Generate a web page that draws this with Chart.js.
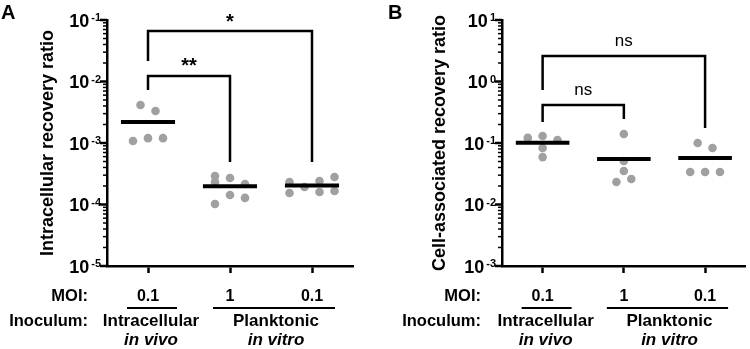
<!DOCTYPE html>
<html>
<head>
<meta charset="utf-8">
<script src="https://cdn.jsdelivr.net/npm/chart.js@4/dist/chart.umd.min.js"></script>
<style>
  html, body { margin: 0; padding: 0; background: #fff; }
  .panel { position: absolute; top: 0; width: 375px; height: 349px; }
</style>
</head>
<body>
<div class="panel" style="left:0"><canvas id="panelA" width="375" height="349"></canvas></div>
<div class="panel" style="left:375px"><canvas id="panelB" width="375" height="349"></canvas></div>
<script>
// recovery ratios, one array per group
const groupPos = [1, 2, 3];
const moiLabels = ['0.1', '1', '0.1'];
const inoculumTop = ['Intracellular', 'Planktonic'];
const inoculumBottom = ['in vivo', 'in vitro'];

// A: intracellular recovery ratio
const aVivo     = [4.15e-3, 3.31e-3, 1.08e-3, 1.20e-3, 1.20e-3];
const aVitro1   = [2.90e-4, 2.32e-4, 2.70e-4, 2.15e-4, 1.43e-4, 1.28e-4, 1.02e-4];
const aVitro01  = [2.32e-4, 1.54e-4, 1.93e-4, 2.41e-4, 1.60e-4, 2.80e-4, 1.66e-4];
// column within the scatter (as placed in the figure)
const aVivoCol    = [-0.5, 0.5, -1, 0, 1];
const aVitro1Col  = [-1, -1, 0, 1, 0, 1, -1];
const aVitro01Col = [-1.5, -1.5, -0.5, 0.5, 0.5, 1.5, 1.5];

// B: cell-associated recovery ratio
const bVivo     = [0.121, 0.130, 0.112, 0.083, 0.059];
const bVitro1   = [0.140, 0.051, 0.035, 0.0232, 0.026];
const bVitro01  = [0.100, 0.083, 0.0337, 0.0337, 0.0337];
const bVivoCol    = [-1, 0, 1, 0, 0];
const bVitro1Col  = [0, 0, 0, -0.5, 0.5];
const bVitro01Col = [-0.5, 0.5, -1, 0, 1];

// significance brackets: [from, to, top, left end, right end, label]
const aBrackets = [
  [1, 2, 0.0123, 0.0073, 0.00049, '**'],
  [1, 3, 0.066, 0.0215, 0.00049, '*']
];
const bBrackets = [
  [1, 2, 0.415, 0.219, 0.245, 'ns'],
  [1, 3, 2.6, 0.73, 0.175, 'ns']
];

const FONT = '"Liberation Sans", Arial, Helvetica, sans-serif';
const COL_STEP = 0.183;
const MEAN_HALF = 0.33;

function mean(arr) {
  return arr.reduce((s, v) => s + v, 0) / arr.length;
}

function makePanel(id, cfg) {
  const datasets = [];
  cfg.groups.forEach((g, i) => {
    datasets.push({
      data: g.values.map((v, j) => ({x: groupPos[i] + g.cols[j] * COL_STEP, y: v})),
      pointRadius: 4.3,
      pointBackgroundColor: '#a0a0a0',
      pointBorderWidth: 0,
      showLine: false,
      order: 2
    });
    const m = mean(g.values);
    datasets.push({
      data: [{x: groupPos[i] - MEAN_HALF, y: m}, {x: groupPos[i] + MEAN_HALF, y: m}],
      showLine: true,
      borderColor: '#000',
      borderWidth: 4,
      borderCapStyle: 'butt',
      pointRadius: 0,
      order: 0
    });
  });
  cfg.brackets.forEach(b => {
    datasets.push({
      data: [{x: b[0], y: b[3]}, {x: b[0], y: b[2]}, {x: b[1], y: b[2]}, {x: b[1], y: b[4]}],
      showLine: true,
      borderColor: '#000',
      borderWidth: 2.5,
      borderCapStyle: 'butt',
      borderJoinStyle: 'miter',
      pointRadius: 0,
      clip: false,
      order: 1
    });
  });

  const labels = {
    id: 'panelText',
    afterDraw(chart) {
      const {ctx, chartArea, scales: {x, y}} = chart;
      ctx.save();
      ctx.fillStyle = '#000';
      ctx.strokeStyle = '#000';

      // log ticks and 10^n labels
      const lo = Math.round(Math.log10(cfg.yMin));
      const hi = Math.round(Math.log10(cfg.yMax));
      for (let k = lo; k <= hi; k++) {
        for (let m = 1; m <= 9; m++) {
          if (k === hi && m > 1) break;
          const py = y.getPixelForValue(m * Math.pow(10, k));
          const len = m === 1 ? 7 : 4;
          ctx.lineWidth = m === 1 ? 2.5 : 1.5;
          ctx.beginPath();
          ctx.moveTo(chartArea.left - len, py);
          ctx.lineTo(chartArea.left, py);
          ctx.stroke();
        }
        const py = y.getPixelForValue(Math.pow(10, k));
        const exp = (k < 0 ? '-' : '') + Math.abs(k);
        const right = chartArea.left - 6;
        ctx.textAlign = 'right';
        ctx.textBaseline = 'alphabetic';
        ctx.font = 'bold 11px ' + FONT;
        const ew = ctx.measureText(exp).width;
        ctx.fillText(exp, right, py + 1);
        ctx.font = 'bold 18px ' + FONT;
        ctx.fillText('10', right - ew - 2, py + 6.5);
      }

      // axis title
      ctx.save();
      ctx.translate(cfg.titleX, (chartArea.top + chartArea.bottom) / 2);
      ctx.rotate(-Math.PI / 2);
      ctx.textAlign = 'center';
      ctx.textBaseline = 'middle';
      ctx.font = 'bold 18px ' + FONT;
      ctx.fillText(cfg.title, 0, 0);
      ctx.restore();

      // panel letter
      ctx.textAlign = 'left';
      ctx.textBaseline = 'alphabetic';
      ctx.font = 'bold 20px ' + FONT;
      ctx.fillText(cfg.letter, cfg.letterX, 19);

      // row captions
      ctx.textAlign = 'right';
      ctx.textBaseline = 'middle';
      ctx.font = 'bold 16.5px ' + FONT;
      ctx.fillText('MOI:', cfg.captionRight, 296);
      ctx.fillText('Inoculum:', cfg.captionRight, 321);

      // group underlines and inoculum labels
      const p1 = x.getPixelForValue(1);
      const p2 = x.getPixelForValue(2);
      const p3 = x.getPixelForValue(3);
      ctx.lineWidth = 2;
      ctx.beginPath();
      ctx.moveTo(p1 - 21, 308); ctx.lineTo(p1 + 29, 308);
      ctx.moveTo(p2 - 17, 308); ctx.lineTo(p3 + 23, 308);
      ctx.stroke();
      const c1 = p1 + 3;
      const c2 = (p2 + p3) / 2 + 5;
      ctx.textAlign = 'center';
      ctx.font = 'bold 17px ' + FONT;
      ctx.fillText(inoculumTop[0], c1, 321);
      ctx.fillText(inoculumTop[1], c2, 321);
      ctx.font = 'italic bold 17px ' + FONT;
      ctx.fillText(inoculumBottom[0], c1, 340);
      ctx.fillText(inoculumBottom[1], c2, 340);

      // significance labels
      cfg.brackets.forEach(b => {
        const cx = (x.getPixelForValue(b[0]) + x.getPixelForValue(b[1])) / 2;
        const py = y.getPixelForValue(b[2]);
        if (b[5] === 'ns') {
          ctx.font = '17px ' + FONT;
          ctx.fillText(b[5], cx, py - 15);
        } else {
          ctx.font = 'bold 20px ' + FONT;
          ctx.fillText(b[5], cx, py - 9);
        }
      });
      ctx.restore();
    }
  };

  return new Chart(document.getElementById(id), {
    type: 'scatter',
    data: {datasets: datasets},
    options: {
      responsive: false,
      animation: false,
      events: [],
      layout: {padding: {top: 20, right: cfg.rightPad, left: 0, bottom: 0}},
      plugins: {legend: {display: false}, tooltip: {enabled: false}},
      scales: {
        x: {
          type: 'linear',
          min: 0.5,
          max: 3.5,
          afterBuildTicks: s => { s.ticks = groupPos.map(v => ({value: v})); },
          afterFit: s => { s.height = 83; },
          ticks: {
            callback: v => moiLabels[groupPos.indexOf(v)],
            font: {family: FONT, size: 16, weight: 'bold'},
            color: '#000',
            padding: 14,
            maxRotation: 0,
            autoSkip: false
          },
          grid: {drawOnChartArea: false, tickLength: 7, tickWidth: 2.5, tickColor: '#000'},
          border: {color: '#000', width: 2.5}
        },
        y: {
          type: 'logarithmic',
          min: cfg.yMin,
          max: cfg.yMax,
          afterFit: s => { s.width = cfg.yWidth; },
          ticks: {display: false},
          grid: {display: false},
          border: {color: '#000', width: 2.5}
        }
      }
    },
    plugins: [labels]
  });
}

makePanel('panelA', {
  letter: 'A', letterX: 1, title: 'Intracellular recovery ratio', titleX: 48,
  yMin: 1e-5, yMax: 1e-1, yWidth: 107, rightPad: 22, captionRight: 88,
  groups: [
    {values: aVivo, cols: aVivoCol},
    {values: aVitro1, cols: aVitro1Col},
    {values: aVitro01, cols: aVitro01Col}
  ],
  brackets: aBrackets
});

makePanel('panelB', {
  letter: 'B', letterX: 13, title: 'Cell-associated recovery ratio', titleX: 65,
  yMin: 1e-3, yMax: 1e1, yWidth: 127, rightPad: 3, captionRight: 106,
  groups: [
    {values: bVivo, cols: bVivoCol},
    {values: bVitro1, cols: bVitro1Col},
    {values: bVitro01, cols: bVitro01Col}
  ],
  brackets: bBrackets
});
</script>
</body>
</html>
